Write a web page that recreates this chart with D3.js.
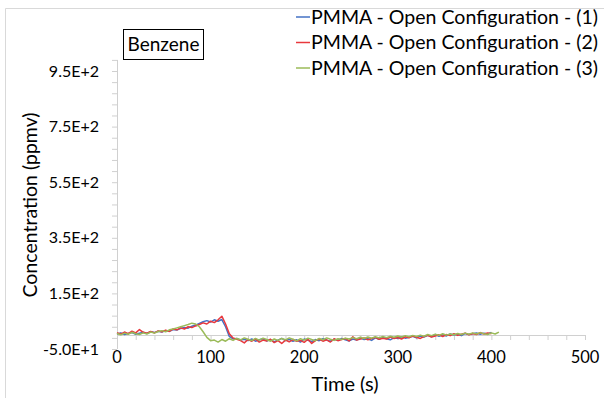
<!DOCTYPE html>
<html><head><meta charset="utf-8">
<script src="https://cdn.jsdelivr.net/npm/d3@7"></script>
<style>body{margin:0;background:#fff;} svg{display:block;} text{font-family:"Lato","Open Sans",sans-serif;fill:#000;}</style>
</head><body>
<script>
const seriesNames = ["PMMA - Open Configuration - (1)", "PMMA - Open Configuration - (2)", "PMMA - Open Configuration - (3)"];
const seriesColors = ["#4472C4", "#E8383D", "#9BBB59"];
const time = [0,4,8,12,16,20,24,28,32,36,40,44,48,52,56,60,64,68,72,76,80,84,88,92,96,100,104,108,112,116,120,124,128,132,136,140,144,148,152,156,160,164,168,172,176,180,184,188,192,196,200,204,208,212,216,220,224,228,232,236,240,244,248,252,256,260,264,268,272,276,280,284,288,292,296,300,304,308,312,316,320,324,328,332,336,340,344,348,352,356,360,364,368,372,376,380,384,388,392,396,400,404,408];
const series1 = [4,8,2,6,9,3,7,10,6,12,9,14,11,16,14,20,18,24,27,25,32,36,42,48,52,47,55,50,56,30,-5,-14,-12,-18,-15,-20,-14,-22,-17,-13,-21,-16,-24,-18,-12,-20,-15,-22,-17,-25,-14,-19,-23,-16,-20,-13,-18,-22,-15,-19,-12,-17,-21,-14,-18,-11,-16,-13,-19,-10,-15,-8,-13,-17,-9,-12,-6,-11,-8,-4,-10,-3,-7,-1,-6,2,-4,1,-3,4,0,3,-2,6,2,5,8,3,7,4,10];
const series2 = [9,3,11,5,14,8,20,10,7,13,8,15,12,18,13,22,19,26,22,30,27,33,38,44,40,50,45,55,68,40,5,-10,-15,-20,-28,-16,-22,-14,-25,-18,-21,-15,-27,-20,-30,-18,-24,-16,-22,-19,-26,-15,-30,-20,-14,-22,-17,-25,-13,-20,-16,-12,-21,-6,-18,-14,-10,-17,-12,-8,-15,-11,-14,-7,-12,-9,-14,-6,-10,-3,-8,-12,-5,-1,-7,-3,1,-5,2,-2,5,-1,3,7,1,6,2,9,4,8,5];
const series3 = [6,1,7,3,10,5,2,8,4,11,7,13,16,12,19,22,26,30,34,38,43,40,30,12,-8,-20,-18,-25,-16,-22,-13,-19,-12,-17,-10,-15,-20,-12,-18,-11,-16,-22,-14,-19,-12,-17,-10,-15,-21,-13,-18,-11,-16,-20,-12,-17,-10,-15,-19,-13,-16,-11,-14,-9,-13,-8,-12,-7,-11,-6,-10,-5,-9,-4,-8,-3,-7,-2,-6,-1,-5,0,-4,2,-2,3,-1,5,0,4,1,6,2,7,3,8,4,9,5,2,8,4,11];
const yTickValues = [-50,150,350,550,750,950];
const yTickLabels = ["-5.0E+1","1.5E+2","3.5E+2","5.5E+2","7.5E+2","9.5E+2"];
const xTickValues = [0,100,200,300,400,500];

const W = 604, H = 398;
const svg = d3.select("body").append("svg").attr("width", W).attr("height", H);

svg.append("path").attr("d", "M5.5," + H + " V8.5 H" + W).attr("fill", "none").attr("stroke", "#d9d9d9").attr("stroke-width", 1);

const x = d3.scaleLinear().domain([0, 500]).range([117, 585]);
const y = d3.scaleLinear().domain([-50, 950]).range([349, 71]);
const yTop = 990;
const axisColor = "#d0d0d0";

const yAxis = d3.axisLeft(y).tickValues(d3.range(-50, yTop + 1, 40)).tickSize(5).tickFormat("");
const gy = svg.append("g").attr("transform", "translate(" + x(0) + ",0)").call(yAxis);
gy.select(".domain").attr("d", "M0.5," + y(-50) + "V" + y(yTop)).attr("stroke", axisColor);
gy.selectAll(".tick line").attr("stroke", axisColor);

svg.append("g").selectAll("text").data(yTickValues).join("text")
  .attr("x", 99).attr("y", d => y(d)).attr("dy", "0.35em")
  .attr("text-anchor", "end").attr("font-size", 16)
  .text((d, i) => yTickLabels[i]);

const xAxis = d3.axisBottom(x).tickValues(d3.range(0, 501, 20)).tickSize(5).tickFormat("");
const gx = svg.append("g").attr("transform", "translate(0," + Math.round(y(0)) + ")").call(xAxis);
gx.select(".domain").attr("d", "M" + x(0) + ",0.5H" + x(500)).attr("stroke", axisColor);
gx.selectAll(".tick line").attr("stroke", axisColor);

svg.append("g").selectAll("text").data(xTickValues).join("text")
  .attr("x", d => x(d)).attr("y", 363)
  .attr("text-anchor", "middle").attr("font-size", 16.5)
  .text(d => d);

svg.append("text").attr("x", 345).attr("y", 391).attr("text-anchor", "middle").attr("font-size", 20).text("Time (s)");
svg.append("text").attr("transform", "translate(37,205) rotate(-90)").attr("text-anchor", "middle").attr("font-size", 19.5).text("Concentration (ppmv)");

const allSeries = [series1, series2, series3];
const line = d3.line().x(d => x(d[0])).y(d => y(d[1]));
allSeries.forEach((s, i) => {
  const pts = s.map((v, j) => [time[j], v]);
  svg.append("path").datum(pts).attr("d", line)
    .attr("fill", "none").attr("stroke", seriesColors[i]).attr("stroke-width", 1.5).attr("stroke-linejoin", "round");
});

svg.append("rect").attr("x", 123.5).attr("y", 29.5).attr("width", 80).attr("height", 30)
  .attr("fill", "#fff").attr("stroke", "#000").attr("stroke-width", 1);
svg.append("text").attr("x", 163.5).attr("y", 51).attr("text-anchor", "middle").attr("font-size", 19).text("Benzene");

const leg = svg.append("g");
seriesNames.forEach((n, i) => {
  const cy = 17 + i * 25.5;
  leg.append("line").attr("x1", 296).attr("x2", 310).attr("y1", cy).attr("y2", cy)
    .attr("stroke", seriesColors[i]).attr("stroke-width", 1.5);
  leg.append("text").attr("x", 311).attr("y", cy).attr("dy", "0.35em").attr("font-size", 19)
    .attr("textLength", 287).attr("lengthAdjust", "spacingAndGlyphs").text(n);
});
</script>
</body></html>
